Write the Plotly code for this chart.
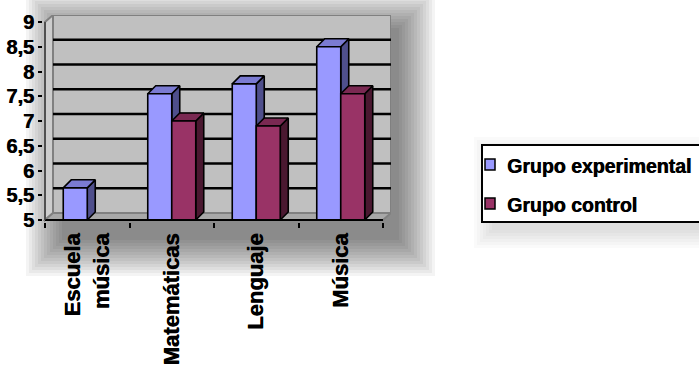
import plotly.graph_objects as go

# ---- data -------------------------------------------------------------
categories = ["Escuela<br>música", "Matemáticas", "Lenguaje", "Música"]
series_names = ["Grupo experimental", "Grupo control"]
experimental = [5.65, 7.55, 7.75, 8.5]
control = [None, 7.0, 6.9, 7.55]
y_ticks = [5, 5.5, 6, 6.5, 7, 7.5, 8, 8.5, 9]

front_colors = ["#9999FF", "#993366"]
side_colors = ["#4F4F8C", "#4A1830"]
top_colors = ["#7B7BD2", "#7A2952"]

FONT = "Liberation Sans"
HEAVY = "0.6px 0px 0px black"   # thickens the bold glyphs slightly

# ---- geometry (pixels) ------------------------------------------------
W, H = 699, 370
AX_L, AX_R, AX_TOP, AX_BOT = 45, 383, 22, 220   # front axis frame
WALL_DX, WALL_DY = 8, 7                          # depth of the walls
BAR_DX, BAR_DY = 8, 8                            # depth of each column
BAR_PX = 24                                      # column width
PAD = 2

Y_MIN, Y_MAX = y_ticks[0], y_ticks[-1]
X_MIN, X_MAX = -0.5, len(categories) - 0.5
px_x = (AX_R - AX_L) / (X_MAX - X_MIN)
px_y = (AX_BOT - AX_TOP) / (Y_MAX - Y_MIN)
wdx, wdy = WALL_DX / px_x, WALL_DY / px_y
bdx, bdy = BAR_DX / px_x, BAR_DY / px_y
bw = BAR_PX / px_x

plot_l, plot_r = AX_L - PAD, AX_R + WALL_DX
plot_t, plot_b = AX_TOP - WALL_DY, AX_BOT + PAD


def px(xp):
    return (xp - plot_l) / (plot_r - plot_l)


def py(yp):
    return (plot_b - yp) / (plot_b - plot_t)


# ---- 3-D columns drawn as filled polygons ----------------------------
fig = go.Figure()
for s, values in enumerate([experimental, control]):
    fx, fy, sx, sy, tx, ty = [], [], [], [], [], []
    for i, v in enumerate(values):
        if v is None:
            continue
        x0 = i - bw if s == 0 else i
        x1 = x0 + bw
        fx += [x0, x0, x1, x1, x0, None]
        fy += [Y_MIN, v, v, Y_MIN, Y_MIN, None]
        sx += [x1, x1, x1 + bdx, x1 + bdx, x1, None]
        sy += [Y_MIN, v, v + bdy, Y_MIN + bdy, Y_MIN, None]
        tx += [x0, x1, x1 + bdx, x0 + bdx, x0, None]
        ty += [v, v, v + bdy, v + bdy, v, None]
    for xs, ys, col in [(sx, sy, side_colors[s]), (tx, ty, top_colors[s]),
                        (fx, fy, front_colors[s])]:
        fig.add_trace(go.Scatter(
            x=xs, y=ys, mode="lines", fill="toself", fillcolor=col,
            line=dict(color="black", width=1.6), hoverinfo="skip",
            showlegend=False, name=series_names[s]))

# ---- shapes: shadow, walls, floor, gridlines -------------------------
shapes = []
# soft drop shadow behind the plot area
for k in range(12, -1, -1):
    e = k * 3
    shapes.append(dict(type="rect", xref="paper", yref="paper", layer="below",
                       x0=px(62 - e), x1=px(399 + e), y0=py(240 + e), y1=py(28 - e),
                       fillcolor="rgba(0,0,0,0.045)", line=dict(width=0)))
# soft shadow of the legend box
for k in range(6, -1, -1):
    e = k * 3
    shapes.append(dict(type="rect", xref="paper", yref="paper", layer="below",
                       x0=px(492 - e), x1=px(720), y0=py(230 + e), y1=py(155 - e),
                       fillcolor="rgba(0,0,0,0.02)", line=dict(width=0)))

wall_line = dict(color="#808080", width=2)
shapes.append(dict(type="rect", xref="x", yref="y", layer="below",
                   x0=X_MIN + wdx, x1=X_MAX + wdx, y0=Y_MIN + wdy, y1=Y_MAX + wdy,
                   fillcolor="#C0C0C0", line=wall_line))
shapes.append(dict(type="path", xref="x", yref="y", layer="below",
                   path=f"M{X_MIN},{Y_MIN} L{X_MIN},{Y_MAX} L{X_MIN + wdx},{Y_MAX + wdy} "
                        f"L{X_MIN + wdx},{Y_MIN + wdy} Z",
                   fillcolor="#CDCDCD", line=wall_line))
shapes.append(dict(type="path", xref="x", yref="y", layer="below",
                   path=f"M{X_MIN},{Y_MIN} L{X_MIN + wdx},{Y_MIN + wdy} "
                        f"L{X_MAX + wdx},{Y_MIN + wdy} L{X_MAX},{Y_MIN} Z",
                   fillcolor="#A8A8A8", line=wall_line))
for v in y_ticks[1:-1]:
    shapes.append(dict(type="line", xref="x", yref="y", layer="below",
                       x0=X_MIN + wdx, x1=X_MAX + wdx, y0=v + wdy, y1=v + wdy,
                       line=dict(color="black", width=2.5)))
# front axis edges
shapes.append(dict(type="line", xref="x", yref="y", layer="above",
                   x0=X_MIN, x1=X_MAX, y0=Y_MIN, y1=Y_MIN,
                   line=dict(color="black", width=2)))
shapes.append(dict(type="line", xref="x", yref="y", layer="above",
                   x0=X_MIN, x1=X_MIN, y0=Y_MIN, y1=Y_MAX,
                   line=dict(color="#404040", width=1.5)))

# ---- legend -----------------------------------------------------------
shapes.append(dict(type="rect", xref="paper", yref="paper", layer="above",
                   x0=px(482), x1=px(712), y0=py(222), y1=py(145),
                   fillcolor="white", line=dict(color="black", width=2)))
annotations = []
for s, (yc, name) in enumerate(zip([164.5, 203.5], series_names)):
    shapes.append(dict(type="rect", xref="paper", yref="paper", layer="above",
                       x0=px(485), x1=px(495), y0=py(yc + 5.5), y1=py(yc - 5.5),
                       fillcolor=front_colors[s], line=dict(color="black", width=1.5)))
    annotations.append(dict(xref="paper", yref="paper", x=px(505), y=py(yc + 1),
                            xanchor="left", yanchor="middle", showarrow=False,
                            text=name,
                            font=dict(family=FONT, size=19.5, color="black",
                                      weight="bold", shadow=HEAVY)))

fig.update_layout(
    width=W, height=H,
    margin=dict(l=plot_l, r=W - plot_r, t=plot_t, b=H - plot_b, pad=0,
                autoexpand=False),
    paper_bgcolor="white", plot_bgcolor="rgba(0,0,0,0)",
    separators=",.",
    showlegend=False,
    shapes=shapes, annotations=annotations,
    xaxis=dict(range=[X_MIN - PAD / px_x, X_MAX + wdx], automargin=False,
               tickvals=list(range(len(categories))), ticktext=categories,
               tickangle=-90, ticks="", showgrid=False, zeroline=False,
               showline=False, ticklabelstandoff=6,
               tickfont=dict(family=FONT, size=22, color="black", weight="bold",
                             shadow=HEAVY),
               minor=dict(ticks="outside", ticklen=5, tickwidth=2,
                          tickcolor="black", tick0=0.5, dtick=1, showgrid=False)),
    yaxis=dict(range=[Y_MIN - PAD / px_y, Y_MAX + wdy], automargin=False,
               tickvals=y_ticks, ticks="outside", ticklen=4, tickwidth=1.5,
               tickcolor="black", showgrid=False, zeroline=False, showline=False,
               tickfont=dict(family=FONT, size=20, color="black", weight="bold",
                             shadow=HEAVY)),
)

fig.write_html("out.html")
